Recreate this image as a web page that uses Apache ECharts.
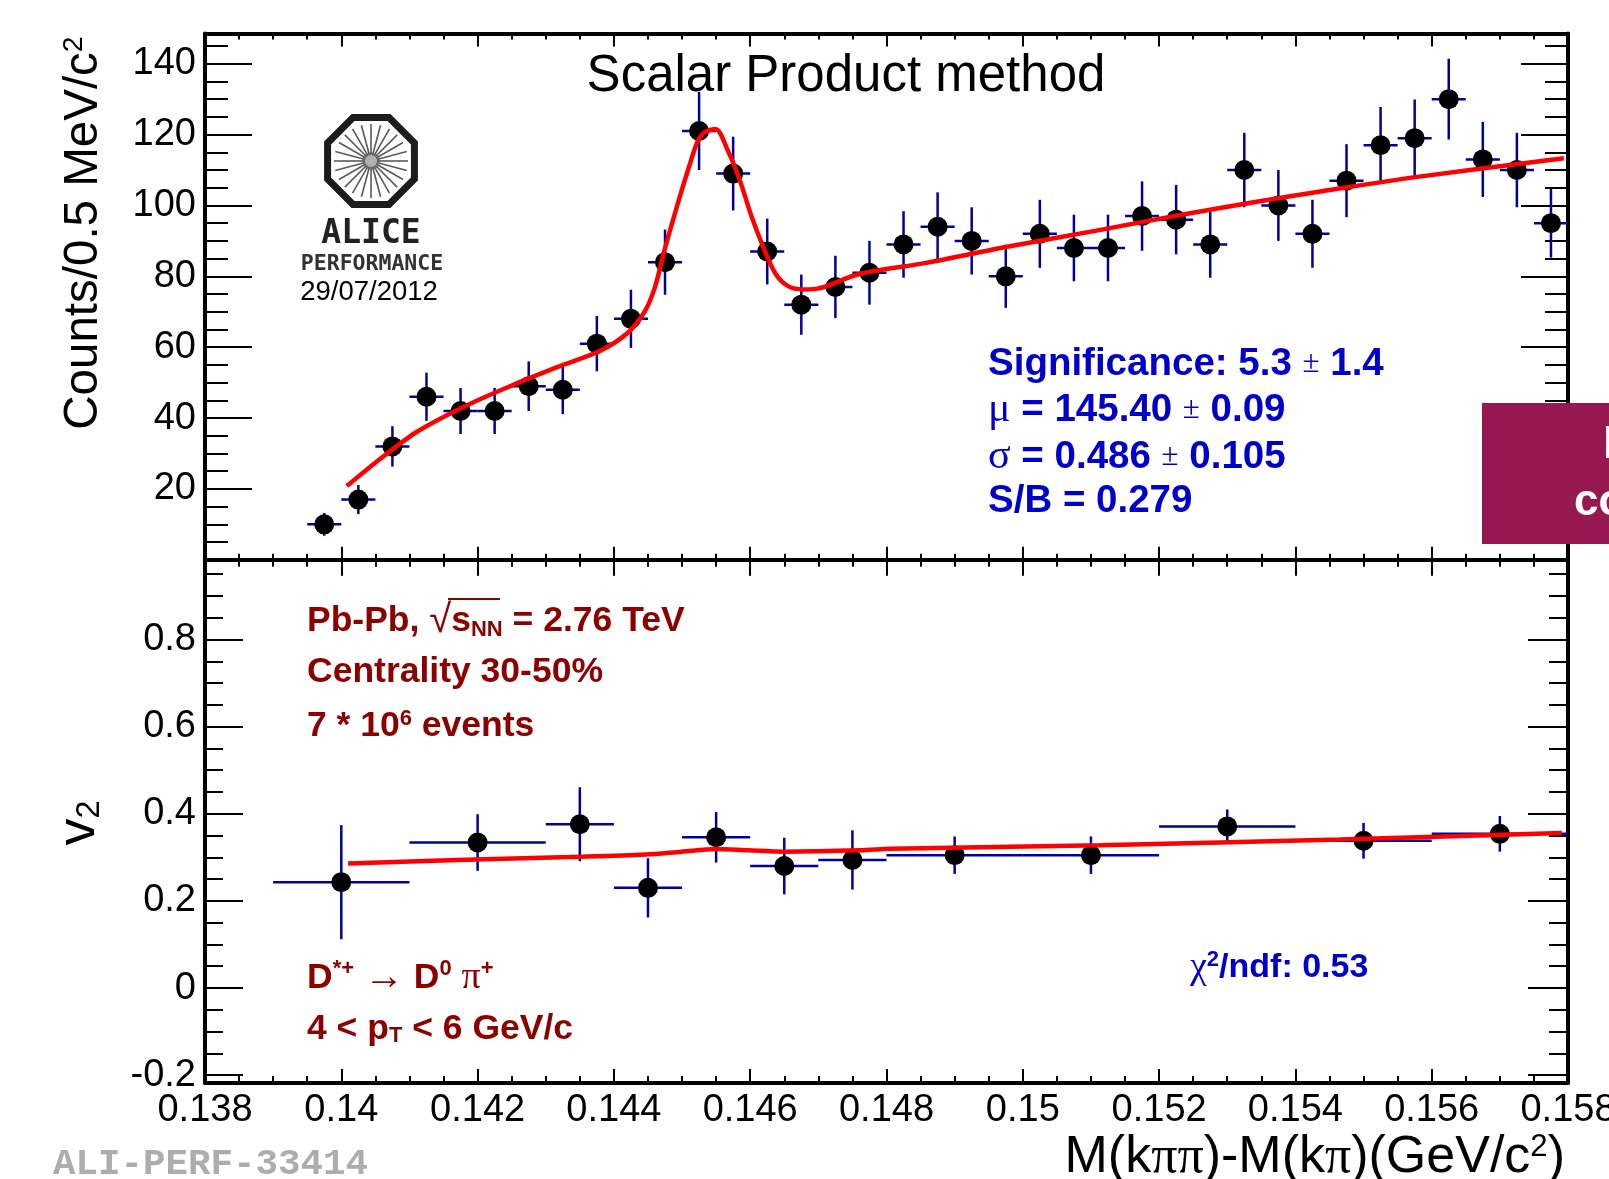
<!DOCTYPE html>
<html>
<head>
<meta charset="utf-8">
<title>D*+ v2 - Scalar Product method</title>
<script src="https://cdn.jsdelivr.net/npm/echarts@6/dist/echarts.min.js"></script>
<style>
  html, body { margin: 0; padding: 0; background: #fff; }
  #chart { width: 1609px; height: 1179px; }
</style>
</head>
<body>
<div id="chart"></div>
<script>
// ---- data ----
// top panel: invariant mass difference histogram (bin width 0.5 MeV)
const massBins = [0.13975, 0.14025, 0.14075, 0.14125, 0.14175, 0.14225, 0.14275, 0.14325, 0.14375, 0.14425,
  0.14475, 0.14525, 0.14575, 0.14625, 0.14675, 0.14725, 0.14775, 0.14825, 0.14875, 0.14925,
  0.14975, 0.15025, 0.15075, 0.15125, 0.15175, 0.15225, 0.15275, 0.15325, 0.15375, 0.15425,
  0.15475, 0.15525, 0.15575, 0.15625, 0.15675, 0.15725, 0.15775]
const binHalf = 0.00025
const counts = [10, 17, 32, 46, 42, 42, 49, 48, 61, 68,
  84, 121, 109, 87, 72, 77, 81, 89, 94, 90,
  80, 92, 88, 88, 97, 96, 89, 110, 100, 92,
  107, 117, 119, 130, 113, 110, 95]
const countErr = [3.2, 4.1, 5.7, 6.8, 6.5, 6.5, 7.0, 6.9, 7.8, 8.2,
  9.2, 11.0, 10.4, 9.3, 8.5, 8.8, 9.0, 9.4, 9.7, 9.5,
  8.9, 9.6, 9.4, 9.4, 9.8, 9.8, 9.4, 10.5, 10.0, 9.6,
  10.3, 10.8, 10.9, 11.4, 10.6, 10.5, 9.7]

// top panel fit curve
const fitMass = [0.14008, 0.1405, 0.1411, 0.1418, 0.1425, 0.1432, 0.1438, 0.1442, 0.14445,
  0.1446, 0.14475, 0.14496, 0.14512, 0.14523, 0.14533, 0.14549, 0.14567, 0.14585, 0.14602,
  0.1462, 0.14637, 0.14655, 0.14678, 0.14701, 0.14759, 0.14858, 0.14975, 0.15108, 0.15225,
  0.15341, 0.15439, 0.15576, 0.15794]
const fitCounts = [20.8, 27.4, 36.0, 43.2, 49.2, 54.6, 59.0, 64.0, 70.0,
  76.8, 87.9, 102, 112, 118.1, 120.6, 121.6, 115.6, 107.0, 96.9,
  87.9, 80.8, 77.3, 76.3, 76.6, 80.6, 83.8, 88.3, 92.9, 97.1,
  101.0, 104.0, 108.0, 113.3]

// bottom panel: v2 vs mass difference (variable bins)
const v2BinLow = [0.139, 0.141, 0.143, 0.144, 0.145, 0.146, 0.147, 0.148, 0.150, 0.152, 0.154, 0.156]
const v2BinHigh = [0.141, 0.143, 0.144, 0.145, 0.146, 0.147, 0.148, 0.150, 0.152, 0.154, 0.156, 0.158]
const v2Values = [0.243, 0.334, 0.376, 0.230, 0.346, 0.280, 0.294, 0.305, 0.305, 0.371, 0.338, 0.354]
const v2Err = [0.131, 0.065, 0.085, 0.068, 0.058, 0.065, 0.068, 0.043, 0.043, 0.039, 0.041, 0.041]

const v2FitMass = [0.1401, 0.1417, 0.14335, 0.14446, 0.14499, 0.1455, 0.14597, 0.1465, 0.14762, 0.14806, 0.15113, 0.15465, 0.15791]
const v2FitValues = [0.286, 0.294, 0.301, 0.3065, 0.313, 0.319, 0.316, 0.313, 0.316, 0.3196, 0.328, 0.341, 0.356]

// axes
const massTicks = [0.138, 0.14, 0.142, 0.144, 0.146, 0.148, 0.15, 0.152, 0.154, 0.156, 0.158]
const countTicks = [0, 20, 40, 60, 80, 100, 120, 140]
const countLabels = [20, 40, 60, 80, 100, 120, 140]
const v2Ticks = [-0.2, 0, 0.2, 0.4, 0.6, 0.8]

const massRange = [0.138, 0.158]
const countRange = [0, 148.5]
const v2Range = [-0.218, 0.983]

const BLUE = '#0000cc'
const MAROON = '#8c0000'
const BAR = '#00009c'
const SANS = 'Liberation Sans'
const SERIF = 'Liberation Serif'

// minor tick positions between (and beyond) the major ones
function minorOf(major, n, lo, hi) {
  const step = major[1] - major[0]
  const out = []
  for (let i = -n; ; i++) {
    const v = +(major[0] + i * step / n).toFixed(6)
    if (v > hi) break
    if (v >= lo && i % n !== 0) out.push(v)
  }
  return out
}

function axisPair(gridIndex, position, range, major, minor, majorLen, minorLen, label) {
  const base = { type: 'value', gridIndex, position, min: range[0], max: range[1], splitLine: { show: false } }
  const main = Object.assign({}, base, {
    axisLine: { show: true, onZero: false, lineStyle: { color: '#000', width: 4 } },
    axisTick: { show: true, inside: true, length: majorLen, customValues: major, lineStyle: { color: '#000', width: 2 } },
    axisLabel: label ? Object.assign({ show: true, color: '#000', fontFamily: SANS, fontSize: 38 }, label) : { show: false }
  })
  const sub = Object.assign({}, base, {
    axisLine: { show: false, onZero: false },
    axisTick: { show: true, inside: true, length: minorLen, customValues: minor, lineStyle: { color: '#000', width: 2 } },
    axisLabel: { show: false }
  })
  return [main, sub]
}

const massMinor = minorOf(massTicks, 4, massRange[0], massRange[1])
const countMinor = minorOf(countTicks, 4, countRange[0], countRange[1])
const v2Minor = minorOf(v2Ticks, 4, v2Range[0], v2Range[1])

const xAxes = [].concat(
  axisPair(0, 'bottom', massRange, massTicks, massMinor, 13, 6),
  axisPair(0, 'top', massRange, massTicks, massMinor, 13, 6),
  axisPair(1, 'bottom', massRange, massTicks, massMinor, 14, 7, {
    customValues: massTicks, margin: 9,
    formatter: v => String(+v.toFixed(3))
  }),
  axisPair(1, 'top', massRange, massTicks, massMinor, 16, 7)
)
const yAxes = [].concat(
  axisPair(0, 'left', countRange, countTicks, countMinor, 47, 23, {
    customValues: countLabels, margin: 9, padding: [6, 0, 0, 0],
    formatter: v => String(v)
  }),
  axisPair(0, 'right', countRange, countTicks, countMinor, 47, 23),
  axisPair(1, 'left', v2Range, v2Ticks, v2Minor, 38, 18, {
    customValues: v2Ticks, margin: 9, padding: [4, 0, 0, 0],
    formatter: v => String(+v.toFixed(1))
  }),
  axisPair(1, 'right', v2Range, v2Ticks, v2Minor, 40, 19)
)

function errorBars(params, api) {
  const x = api.value(0), y = api.value(1)
  const pL = api.coord([api.value(2), y]), pH = api.coord([api.value(3), y])
  const pB = api.coord([x, api.value(4)]), pT = api.coord([x, api.value(5)])
  const st = { stroke: BAR, lineWidth: 2.5 }
  return {
    type: 'group',
    children: [
      { type: 'line', shape: { x1: pL[0], y1: pL[1], x2: pH[0], y2: pH[1] }, style: st },
      { type: 'line', shape: { x1: pB[0], y1: pB[1], x2: pT[0], y2: pT[1] }, style: st }
    ]
  }
}

const countBars = massBins.map((m, i) => [m, counts[i], m - binHalf, m + binHalf, counts[i] - countErr[i], counts[i] + countErr[i]])
const v2Centers = v2BinLow.map((lo, i) => (lo + v2BinHigh[i]) / 2)
const v2Bars = v2Centers.map((m, i) => [m, v2Values[i], v2BinLow[i], v2BinHigh[i], v2Values[i] - v2Err[i], v2Values[i] + v2Err[i]])

const markStyle = { color: '#000', opacity: 1 }
const series = [
  { type: 'custom', xAxisIndex: 0, yAxisIndex: 0, renderItem: errorBars, data: countBars, encode: { x: 0, y: 1 }, z: 2 },
  { type: 'scatter', xAxisIndex: 0, yAxisIndex: 0, symbolSize: 20, itemStyle: markStyle,
    data: massBins.map((m, i) => [m, counts[i]]), z: 3 },
  { type: 'line', xAxisIndex: 0, yAxisIndex: 0, showSymbol: false, smooth: 0.3,
    lineStyle: { color: '#ff0000', width: 4.5 }, data: fitMass.map((m, i) => [m, fitCounts[i]]), z: 4 },
  { type: 'custom', xAxisIndex: 4, yAxisIndex: 4, renderItem: errorBars, data: v2Bars, encode: { x: 0, y: 1 }, z: 2 },
  { type: 'scatter', xAxisIndex: 4, yAxisIndex: 4, symbolSize: 20, itemStyle: markStyle,
    data: v2Centers.map((m, i) => [m, v2Values[i]]), z: 3 },
  { type: 'line', xAxisIndex: 4, yAxisIndex: 4, showSymbol: false, smooth: 0.3,
    lineStyle: { color: '#ff0000', width: 4.5 }, data: v2FitMass.map((m, i) => [m, v2FitValues[i]]), z: 4 }
]

// ---- annotations ----
function label(x, y, rich, text, align, extra) {
  return Object.assign({
    type: 'text', x, y, z: 100,
    style: { text, rich, align: align || 'left', verticalAlign: 'middle' }
  }, extra || {})
}
const blueRich = {
  b: { fontFamily: SANS, fontWeight: 'bold', fontSize: 38.5, fill: BLUE },
  pm: { fontFamily: SERIF, fontSize: 31, fill: BLUE },
  g: { fontFamily: SERIF, fontSize: 42, fill: BLUE },
  sup: { fontFamily: SANS, fontWeight: 'bold', fontSize: 22, fill: BLUE, verticalAlign: 'top' }
}
const chiRich = Object.assign({}, blueRich, {
  b: { fontFamily: SANS, fontWeight: 'bold', fontSize: 34, fill: BLUE },
  g: { fontFamily: SERIF, fontSize: 38, fill: BLUE }
})
const redRich = {
  b: { fontFamily: SANS, fontWeight: 'bold', fontSize: 35.5, fill: MAROON },
  r: { fontFamily: SANS, fontSize: 40, fill: MAROON },
  g: { fontFamily: SERIF, fontSize: 38, fill: MAROON },
  sup: { fontFamily: SANS, fontWeight: 'bold', fontSize: 22, fill: MAROON, verticalAlign: 'top' },
  sub: { fontFamily: SANS, fontWeight: 'bold', fontSize: 22, fill: MAROON, verticalAlign: 'bottom' }
}
function blackRich(size) {
  return {
    r: { fontFamily: SANS, fontSize: size, fill: '#000' },
    p: { fontFamily: SERIF, fontSize: size, fill: '#000' },
    sup: { fontFamily: SANS, fontSize: size * 0.6, fill: '#000', verticalAlign: 'top' },
    sub: { fontFamily: SANS, fontSize: size * 0.6, fill: '#000', verticalAlign: 'bottom' }
  }
}

// ALICE logo
const logoCx = 371, logoCy = 161
const octagon = []
for (let k = 0; k < 8; k++) {
  const a = (22.5 + 45 * k) * Math.PI / 180
  octagon.push([logoCx + 47 * Math.cos(a), logoCy + 47 * Math.sin(a)])
}
const logo = [
  { type: 'polygon', z: 100, shape: { points: octagon }, style: { fill: null, stroke: '#1c1c1c', lineWidth: 7 } },
  { type: 'circle', z: 100, shape: { cx: logoCx, cy: logoCy, r: 9 }, style: { fill: '#b0b0b0' } }
]
for (let k = 0; k < 24; k++) {
  const a = k * 15 * Math.PI / 180
  logo.push({ type: 'line', z: 100,
    shape: { x1: logoCx + 6 * Math.cos(a), y1: logoCy + 6 * Math.sin(a), x2: logoCx + 37 * Math.cos(a), y2: logoCy + 37 * Math.sin(a) },
    style: { stroke: '#5a5a5a', lineWidth: 1.6 } })
}

const graphics = logo.concat([
  { type: 'text', x: 371, y: 234, z: 100, style: { text: 'ALICE', fontFamily: 'DejaVu Sans Mono', fontWeight: 'bold', fontSize: 33, fill: '#222', align: 'center', verticalAlign: 'middle' } },
  { type: 'text', x: 372, y: 264, z: 100, style: { text: 'PERFORMANCE', fontFamily: 'DejaVu Sans Mono', fontWeight: 'bold', fontSize: 21.5, fill: '#333', align: 'center', verticalAlign: 'middle' } },
  { type: 'text', x: 369, y: 292, z: 100, style: { text: '29/07/2012', fontFamily: SANS, fontSize: 27.5, fill: '#000', align: 'center', verticalAlign: 'middle' } },

  { type: 'text', x: 846, y: 77, z: 100, style: { text: 'Scalar Product method', fontFamily: SANS, fontSize: 51, fill: '#000', align: 'center', verticalAlign: 'middle' } },

  label(988, 364, blueRich, '{b|Significance: 5.3 }{pm|±}{b| 1.4}'),
  label(988, 410, blueRich, '{g|μ}{b| = 145.40 }{pm|±}{b| 0.09}'),
  label(988, 457, blueRich, '{g|σ}{b| = 0.486 }{pm|±}{b| 0.105}'),
  label(988, 501, blueRich, '{b|S/B = 0.279}'),

  label(1190, 968, chiRich, '{g|χ}{sup|2}{b|/ndf: 0.53}'),

  label(307, 621, redRich, '{b|Pb-Pb, }{r|√}{b|s}{sub|NN}{b| = 2.76 TeV}'),
  label(307, 672, redRich, '{b|Centrality 30-50%}'),
  label(307, 726, redRich, '{b|7 * 10}{sup|6}{b| events}'),
  label(307, 978, redRich, '{b|D}{sup|*+}{b| }{r|→}{b| D}{sup|0}{b| }{g|π}{sup|+}'),
  label(307, 1029, redRich, '{b|4 < p}{sub|T}{b| < 6 GeV/c}'),
  { type: 'line', z: 100, shape: { x1: 448, y1: 599, x2: 500, y2: 599 }, style: { stroke: MAROON, lineWidth: 1.8 } },

  label(1565, 1158, blackRich(52), '{r|M(k}{p|ππ}{r|)-M(k}{p|π}{r|)(GeV/c}{sup|2}{r|)}', 'right'),
  label(84, 233, blackRich(47.5), '{r|Counts/0.5 MeV/c}{sup|2}', 'center', { rotation: Math.PI / 2 }),
  label(79, 823, blackRich(54), '{r|v}{sub|2}', 'center', { rotation: Math.PI / 2 }),

  { type: 'text', x: 53, y: 1165, z: 100, style: { text: 'ALI-PERF-33414', fontFamily: 'Liberation Mono', fontWeight: 'bold', fontSize: 37.5, fill: '#adadad', align: 'left', verticalAlign: 'middle' } },

  { type: 'rect', z: 110, shape: { x: 1482, y: 403, width: 140, height: 141 }, style: { fill: '#961850' } },
  { type: 'text', x: 1603, y: 445, z: 111, style: { text: 'N', fontFamily: SANS, fontWeight: 'bold', fontSize: 46, fill: '#fff', align: 'left', verticalAlign: 'middle' } },
  { type: 'text', x: 1574, y: 503, z: 111, style: { text: 'co', fontFamily: SANS, fontWeight: 'bold', fontSize: 44, fill: '#fff', align: 'left', verticalAlign: 'middle' } }
])

const chart = echarts.init(document.getElementById('chart'), null, { renderer: 'canvas' })
chart.setOption({
  animation: false,
  backgroundColor: '#fff',
  grid: [
    { left: 205, top: 33.6, width: 1363, height: 526.2, outerBoundsMode: 'none', containLabel: false },
    { left: 205, top: 559.8, width: 1363, height: 523.2, outerBoundsMode: 'none', containLabel: false }
  ],
  xAxis: xAxes,
  yAxis: yAxes,
  series,
  graphic: graphics
})
</script>
</body>
</html>
